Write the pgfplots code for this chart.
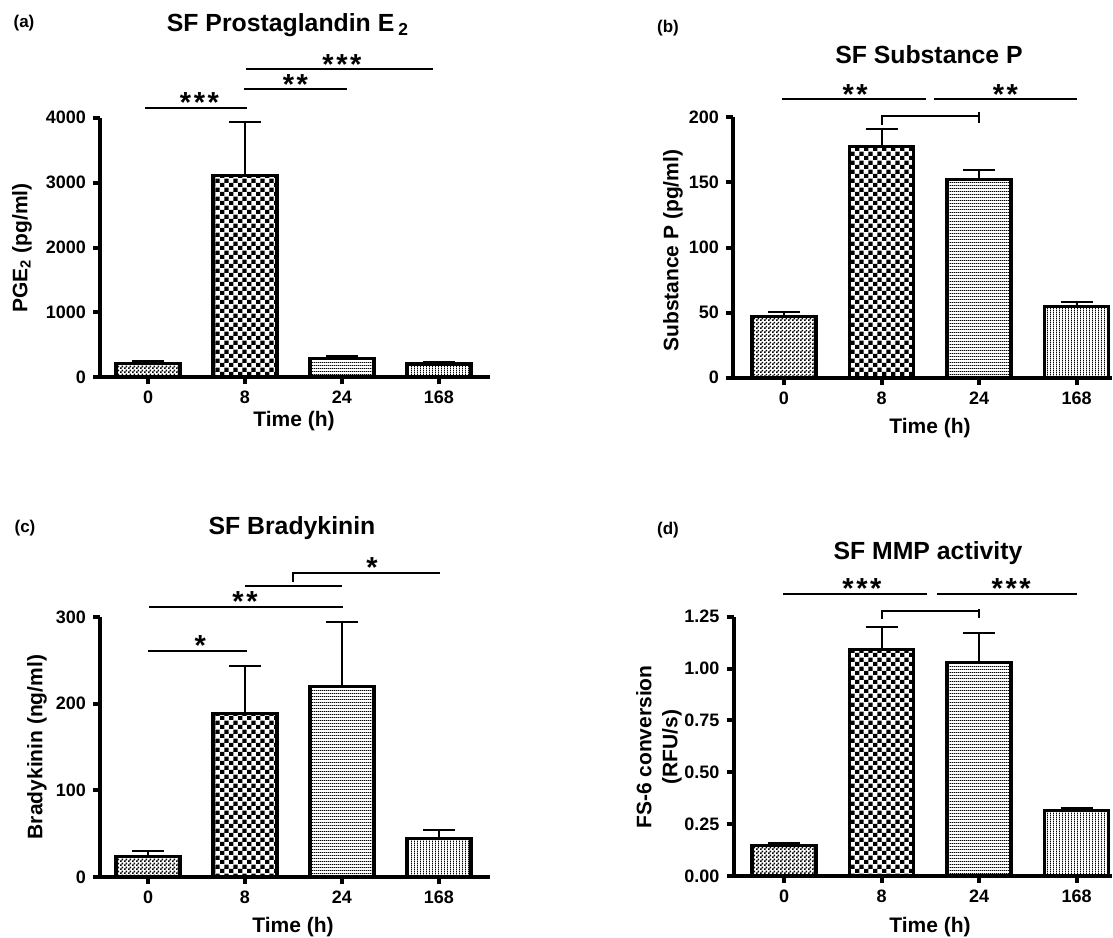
\documentclass[border=0pt]{standalone}
\usepackage{fontspec}
\setmainfont{Liberation Sans}
\usepackage{pgfplots}
\pgfplotsset{compat=1.18}
\usetikzlibrary{patterns}

% bar fills
\pgfdeclarepatternformonly{finecheck}{\pgfpointorigin}{\pgfqpoint{2pt}{2pt}}{\pgfqpoint{2pt}{2pt}}{%
  \pgfpathrectangle{\pgfpointorigin}{\pgfqpoint{1pt}{1pt}}%
  \pgfpathrectangle{\pgfqpoint{1pt}{1pt}}{\pgfqpoint{1pt}{1pt}}%
  \pgfusepath{fill}}
\pgfdeclarepatternformonly{bigcheck}{\pgfpointorigin}{\pgfqpoint{4.6pt}{4.6pt}}{\pgfqpoint{4.6pt}{4.6pt}}{%
  \pgfpathrectangle{\pgfpointorigin}{\pgfqpoint{2.3pt}{2.3pt}}%
  \pgfpathrectangle{\pgfqpoint{2.3pt}{2.3pt}}{\pgfqpoint{2.3pt}{2.3pt}}%
  \pgfusepath{fill}}
\pgfdeclarepatternformonly{hlines}{\pgfpointorigin}{\pgfqpoint{1pt}{1.6pt}}{\pgfqpoint{1pt}{1.6pt}}{%
  \pgfpathrectangle{\pgfpointorigin}{\pgfqpoint{1pt}{0.5pt}}%
  \pgfusepath{fill}}
\pgfdeclarepatternformonly{vlines}{\pgfpointorigin}{\pgfqpoint{1.5pt}{1pt}}{\pgfqpoint{1.5pt}{1pt}}{%
  \pgfpathrectangle{\pgfpointorigin}{\pgfqpoint{0.5pt}{1pt}}%
  \pgfusepath{fill}}

\pgfplotsset{
  panel/.style={
    scale only axis, anchor=south west, clip=false,
    axis x line*=bottom, axis y line*=left,
    axis line style={line width=2pt},
    tick align=outside, major tick length=3.5pt,
    tick style={line width=2pt, black},
    xtick={0,1,2,3}, xticklabels={0,8,24,168},
    ymin=0,
    ticklabel style={font=\fontsize{9}{10}\selectfont\bfseries},
    /pgf/number format/assume math mode=true,
    /pgf/number format/1000 sep={},
  },
  pbar/.style={ybar, bar width=32pt, bar shift=0pt, draw=black, line width=1.6pt, pattern=#1,
    error bars/y dir=plus, error bars/y explicit,
    error bars/error bar style={line width=1pt},
    error bars/error mark options={rotate=90, mark size=8pt, line width=1pt}},
}
\tikzset{
  br/.style={line width=1pt},
  st/.style={anchor=base, yshift=-2.4pt, inner sep=0pt, font=\fontsize{14.5}{15}\selectfont\bfseries},
  ttl/.style={font=\fontsize{12.4}{14}\selectfont\bfseries},
  lab/.style={font=\fontsize{10.5}{13}\selectfont\bfseries},
  pl/.style={font=\fontsize{8.5}{10}\selectfont\bfseries},
}
\newcommand\twostar{*\kern1.3pt*}
\newcommand\threestar{*\kern1.3pt*\kern1.3pt*}

\begin{document}
\begin{tikzpicture}
\useasboundingbox (0,0) rectangle (556.5pt,-468.5pt);

% (a) PGE2
\begin{axis}[panel, at={(50pt,-188.65pt)}, width=195pt, height=129.8pt,
    xmin=-0.495, xmax=3.526, ymax=4000, ytick={0,1000,2000,3000,4000}]
  \addplot[pbar=finecheck] coordinates {(0,210) +- (0,40)};
  \addplot[pbar=bigcheck] coordinates {(1,3110) +- (0,820)};
  \addplot[pbar=hlines] coordinates {(2,285) +- (0,40)};
  \addplot[pbar=vlines] coordinates {(3,205) +- (0,35)};
  \draw[br] (axis cs:-0.03,4155) -- (axis cs:1.02,4155);
  \node[st] at (axis cs:0.53,4155) {\threestar};
  \draw[br] (axis cs:0.99,4438) -- (axis cs:2.05,4438);
  \node[st] at (axis cs:1.52,4438) {\twostar};
  \draw[br] (axis cs:1.01,4746) -- (axis cs:2.94,4746);
  \node[st] at (axis cs:2.0,4746) {\threestar};
\end{axis}
\node[pl] at (12pt,-11.5pt) {(a)};
\node[ttl] at (144pt,-12.5pt) {SF Prostaglandin E\,\textsubscript{2}};
\node[lab, rotate=90] at (11pt,-124pt) {PGE\textsubscript{2} (pg/ml)};
\node[lab] at (147pt,-210.5pt) {Time (h)};

% (b) Substance P
\begin{axis}[panel, at={(366.5pt,-188.85pt)}, width=189.5pt, height=130.2pt,
    xmin=-0.523, xmax=3.364, ymax=200, ytick={0,50,100,150,200}]
  \addplot[pbar=finecheck] coordinates {(0,47) +- (0,3.5)};
  \addplot[pbar=bigcheck] coordinates {(1,177.5) +- (0,13.3)};
  \addplot[pbar=hlines] coordinates {(2,152) +- (0,7.7)};
  \addplot[pbar=vlines] coordinates {(3,54.5) +- (0,3.6)};
  \draw[br] (axis cs:-0.02,213.8) -- (axis cs:1.46,213.8);
  \draw[br] (axis cs:1.54,213.8) -- (axis cs:3.0,213.8);
  \node[st] at (axis cs:0.73,213.8) {\twostar};
  \node[st] at (axis cs:2.27,213.8) {\twostar};
  \draw[br] (axis cs:1.0,194) -- (axis cs:1.0,201.2) -- (axis cs:2.0,201.2);
  \draw[br] (axis cs:2.0,204) -- (axis cs:2.0,196);
\end{axis}
\node[pl] at (334pt,-14pt) {(b)};
\node[ttl] at (464.5pt,-27.5pt) {SF Substance P};
\node[lab, rotate=90] at (336.5pt,-125.3pt) {Substance P (pg/ml)};
\node[lab] at (465pt,-214pt) {Time (h)};

% (c) Bradykinin
\begin{axis}[panel, at={(50pt,-438.5pt)}, width=195pt, height=130pt,
    xmin=-0.495, xmax=3.526, ymax=300, ytick={0,100,200,300}]
  \addplot[pbar=finecheck] coordinates {(0,23.8) +- (0,6.2)};
  \addplot[pbar=bigcheck] coordinates {(1,188.5) +- (0,54.5)};
  \addplot[pbar=hlines] coordinates {(2,220) +- (0,74)};
  \addplot[pbar=vlines] coordinates {(3,44.2) +- (0,10.4)};
  \draw[br] (axis cs:0,260.8) -- (axis cs:1.02,260.8);
  \node[st] at (axis cs:0.54,260.8) {*};
  \draw[br] (axis cs:0.01,311.5) -- (axis cs:2.01,311.5);
  \node[st] at (axis cs:1.0,311.5) {\twostar};
  \draw[br] (axis cs:1.0,335.8) -- (axis cs:2.0,335.8);
  \draw[br] (axis cs:1.49,340.4) -- (axis cs:1.49,350.8) -- (axis cs:3.01,350.8);
  \node[st] at (axis cs:2.31,350.8) {*};
\end{axis}
\node[pl] at (12.5pt,-264pt) {(c)};
\node[ttl] at (146pt,-264pt) {SF Bradykinin};
\node[lab, rotate=90] at (18.5pt,-373.5pt) {Bradykinin (ng/ml)};
\node[lab] at (146.5pt,-463.5pt) {Time (h)};

% (d) MMP activity
\begin{axis}[panel, at={(366.75pt,-438pt)}, width=189.25pt, height=129.65pt,
    xmin=-0.518, xmax=3.364, ymax=1.25, ytick={0,0.25,0.5,0.75,1,1.25},
    yticklabel style={/pgf/number format/.cd, fixed, fixed zerofill, precision=2}]
  \addplot[pbar=finecheck] coordinates {(0,0.149) +- (0,0.012)};
  \addplot[pbar=bigcheck] coordinates {(1,1.093) +- (0,0.109)};
  \addplot[pbar=hlines] coordinates {(2,1.028) +- (0,0.145)};
  \addplot[pbar=vlines] coordinates {(3,0.315) +- (0,0.011)};
  \draw[br] (axis cs:-0.01,1.359) -- (axis cs:1.465,1.359);
  \draw[br] (axis cs:1.573,1.359) -- (axis cs:3.01,1.359);
  \node[st] at (axis cs:0.8,1.359) {\threestar};
  \node[st] at (axis cs:2.33,1.359) {\threestar};
  \draw[br] (axis cs:1.0,1.239) -- (axis cs:1.0,1.278) -- (axis cs:2.0,1.278);
  \draw[br] (axis cs:2.0,1.287) -- (axis cs:2.0,1.243);
\end{axis}
\node[pl] at (334pt,-265pt) {(d)};
\node[ttl] at (464pt,-276.5pt) {SF MMP activity};
\node[lab, rotate=90, align=center] at (329.5pt,-373.5pt) {FS-6 conversion\\(RFU/s)};
\node[lab] at (465pt,-463.5pt) {Time (h)};
\end{tikzpicture}
\end{document}
